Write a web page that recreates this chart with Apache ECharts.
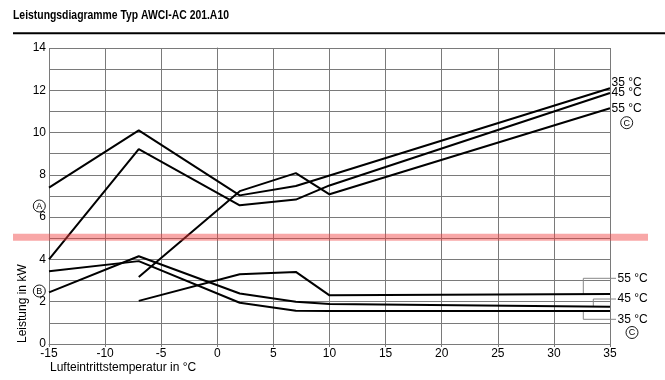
<!DOCTYPE html>
<html><head><meta charset="utf-8">
<script src="https://cdn.jsdelivr.net/npm/echarts@6/dist/echarts.min.js"></script>
<style>html,body{margin:0;padding:0;background:#fff}#c{width:665px;height:380px}</style>
</head><body><div id="c"></div>
<script>
// temperatures (x) and capacity values (y)
const heat35X = [-15, -7, 2, 7, 35];
const heat35Y = [7.4, 10.1, 7.03, 7.47, 12.1];
const heat45X = [-15, -7, 2, 7, 10, 35];
const heat45Y = [4.0, 9.22, 6.56, 6.83, 7.5, 11.87];
const heat55X = [-7, 2, 7, 10, 35];
const heat55Y = [3.17, 7.23, 8.08, 7.08, 11.15];
// power consumption
const pow35X = [-15, -7, 2, 7, 10, 35];
const pow35Y = [3.44, 3.92, 1.95, 1.57, 1.56, 1.56];
const pow45X = [-15, -7, 2, 7, 10, 35];
const pow45Y = [2.44, 4.15, 2.39, 2.0, 1.89, 1.76];
const pow55X = [-7, 2, 7, 10, 35];
const pow55Y = [2.04, 3.3, 3.41, 2.3, 2.36];
const markerY = 5.05;

const zip = (xs, ys) => xs.map((x, i) => [x, ys[i]]);
const FONT = 'Liberation Sans, Arial, sans-serif';
const chart = echarts.init(document.getElementById('c'), null, {renderer: 'canvas'});
const mk = (name, xs, ys) => ({
  name, type: 'line', data: zip(xs, ys), showSymbol: false, symbol: 'none',
  lineStyle: {color: '#000', width: 2}, silent: true, animation: false, z: 3
});
const gridCol = '#7a7a7a';
chart.setOption({
  animation: false,
  backgroundColor: '#fff',
  grid: {left: 49, right: 55, top: 48, bottom: 36},
  xAxis: {
    type: 'value', min: -15, max: 35, interval: 5,
    axisLine: {lineStyle: {color: gridCol, width: 1}},
    axisTick: {show: true, length: 3, lineStyle: {color: gridCol}},
    axisLabel: {color: '#000', fontFamily: FONT, fontSize: 12, margin: 4},
    splitLine: {show: true, lineStyle: {color: gridCol, width: 1}}
  },
  yAxis: {
    type: 'value', min: 0, max: 14, interval: 2,
    axisLine: {show: true, lineStyle: {color: gridCol, width: 1}},
    axisTick: {show: true, length: 3, lineStyle: {color: gridCol}},
    minorTick: {show: false, splitNumber: 2},
    minorSplitLine: {show: true, lineStyle: {color: gridCol, width: 1}},
    axisLabel: {color: '#000', fontFamily: FONT, fontSize: 12, margin: 3},
    splitLine: {show: true, lineStyle: {color: gridCol, width: 1}}
  },
  series: [
    mk('h35', heat35X, heat35Y), mk('h45', heat45X, heat45Y), mk('h55', heat55X, heat55Y),
    mk('p35', pow35X, pow35Y), mk('p45', pow45X, pow45Y), mk('p55', pow55X, pow55Y)
  ]
});

const bandY = chart.convertToPixel({yAxisIndex: 0}, markerY);
const circ = (cx, cy, letter) => ({
  type: 'group', x: cx, y: cy, children: [
    {type: 'circle', shape: {cx: 0, cy: 0, r: 6}, style: {fill: '#fff', stroke: '#000', lineWidth: 0.9}},
    {type: 'text', x: 0, y: 0.5, style: {text: letter, fontFamily: FONT, fontSize: 9, fill: '#000', align: 'center', verticalAlign: 'middle'}}
  ]
});
const lbl = (x, y, t) => ({type: 'text', x, y, style: {text: t, fontFamily: FONT, fontSize: 12, fill: '#000', align: 'left', verticalAlign: 'middle'}});
const leader = (pts) => ({type: 'polyline', shape: {points: pts}, style: {stroke: '#888', lineWidth: 1, fill: null}, z: 2});
chart.setOption({
  graphic: [
    {type: 'text', x: 13, y: 15, scaleX: 0.8, style: {text: 'Leistungsdiagramme Typ AWCI-AC 201.A10', fontFamily: FONT, fontSize: 13, fontWeight: 'bold', fill: '#000', verticalAlign: 'middle'}},
    {type: 'rect', shape: {x: 13, y: 32.3, width: 652, height: 2}, style: {fill: '#000'}},
    {type: 'text', x: 23, y: 343, rotation: Math.PI / 2, style: {text: 'Leistung in kW', fontFamily: FONT, fontSize: 12, fill: '#000', align: 'left', verticalAlign: 'middle'}},
    {type: 'text', x: 50, y: 368, style: {text: 'Lufteintrittstemperatur in °C', fontFamily: FONT, fontSize: 12, fill: '#000', align: 'left', verticalAlign: 'middle'}},
    circ(39.3, 206, 'A'), circ(39.3, 291, 'B'),
    lbl(611.5, 83, '35 °C'), lbl(611.5, 92.5, '45 °C'), lbl(611.5, 109, '55 °C'),
    circ(626.7, 122.7, 'C'),
    leader([[616, 278.3], [583.3, 278.3], [583.3, 294]]),
    leader([[616, 299], [593.3, 299], [593.3, 306.5]]),
    leader([[616, 319.3], [583.3, 319.3], [583.3, 311]]),
    lbl(617.5, 278.5, '55 °C'), lbl(617.5, 299, '45 °C'), lbl(617.5, 319.5, '35 °C'),
    circ(632, 332.5, 'C'),
    {type: 'rect', shape: {x: 13, y: bandY - 3.5, width: 635, height: 7}, style: {fill: 'rgba(240,60,60,0.45)'}, z: 10}
  ]
});
</script></body></html>
